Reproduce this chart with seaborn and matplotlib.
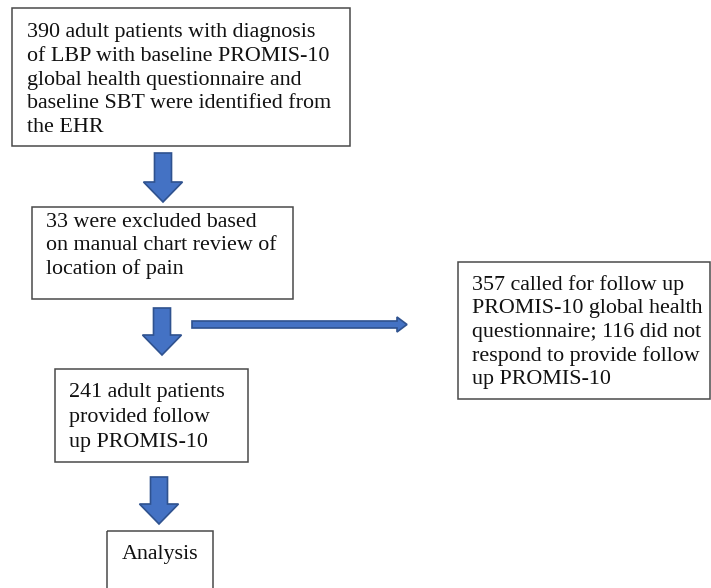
import matplotlib
matplotlib.use("Agg")
import matplotlib.pyplot as plt
from matplotlib.patches import Rectangle, FancyArrow
import seaborn as sns

sns.set_theme(style="white")
plt.rcParams['font.family'] = ['Liberation Serif', 'DejaVu Serif']

# Flowchart content
box_texts = [
    "390 adult patients with diagnosis\nof LBP with baseline PROMIS-10\nglobal health questionnaire and\nbaseline SBT were identified from\nthe EHR",
    "33 were excluded based\non manual chart review of\nlocation of pain",
    "357 called for follow up\nPROMIS-10 global health\nquestionnaire; 116 did not\nrespond to provide follow\nup PROMIS-10",
    "241 adult patients\nprovided follow\nup PROMIS-10",
    "Analysis",
]
# box geometry in pixel coordinates: x0, y0, x1, y1
box_x0 = [12, 32, 458, 55, 107]
box_y0 = [8, 207, 262, 369, 531]
box_x1 = [350, 293, 710, 248, 213]
box_y1 = [146, 299, 399, 462, 600]
text_x = [27, 46, 472, 69, 160]
text_y = [37, 227, 290, 397, 559]      # baseline of first line
line_step = [23.8, 23.3, 23.5, 25.0, 24.0]
text_ha = ["left", "left", "left", "left", "center"]

# down arrows: center x, top y, bottom y
down_cx = [163, 162, 159]
down_top = [153, 308, 477]
down_bot = [202, 355, 524]

fig = plt.figure(figsize=(7.11, 5.88), dpi=100)
ax = fig.add_axes([0, 0, 1, 1])
ax.set_xlim(0, 711)
ax.set_ylim(588, 0)
ax.axis("off")

for i, t in enumerate(box_texts):
    ax.add_patch(Rectangle((box_x0[i], box_y0[i]), box_x1[i] - box_x0[i],
                           box_y1[i] - box_y0[i], fill=False,
                           edgecolor="#4a4a4a", linewidth=1.1))
    for j, line in enumerate(t.split("\n")):
        ax.text(text_x[i], text_y[i] + j * line_step[i], line,
                ha=text_ha[i], va="baseline",
                fontsize=15.8, color="#111111")

fill = "#4472C4"
edge = "#2F528F"
for cx, t, b in zip(down_cx, down_top, down_bot):
    ax.add_patch(FancyArrow(cx, t, 0, b - t, width=17, head_width=39,
                            head_length=20, length_includes_head=True,
                            facecolor=fill, edgecolor=edge, linewidth=1.2))

# horizontal arrow
ax.add_patch(FancyArrow(192, 324.5, 215, 0, width=7, head_width=15,
                        head_length=10, length_includes_head=True,
                        facecolor=fill, edgecolor=edge, linewidth=1.2))

fig.savefig("out.png", dpi=100)
